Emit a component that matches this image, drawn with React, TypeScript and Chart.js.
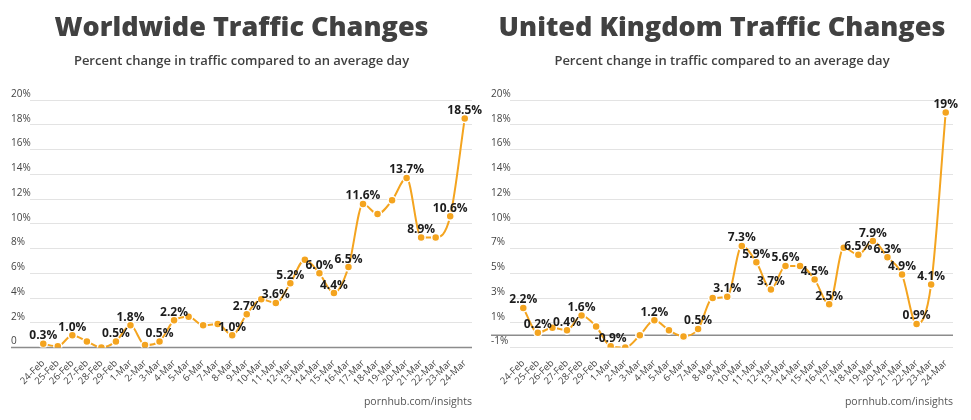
import { useEffect, useRef } from 'react';
import { Chart, LinearScale, registerables } from 'chart.js';

const days = [
  '24-Feb', '25-Feb', '26-Feb', '27-Feb', '28-Feb', '29-Feb',
  '1-Mar', '2-Mar', '3-Mar', '4-Mar', '5-Mar', '6-Mar', '7-Mar', '8-Mar',
  '9-Mar', '10-Mar', '11-Mar', '12-Mar', '13-Mar', '14-Mar', '15-Mar', '16-Mar',
  '17-Mar', '18-Mar', '19-Mar', '20-Mar', '21-Mar', '22-Mar', '23-Mar', '24-Mar',
];

const worldValues = [
  0.3, 0.1, 1.0, 0.5, 0.0, 0.5,
  1.8, 0.2, 0.5, 2.2, 2.5, 1.8, 1.9, 1.0,
  2.7, 3.9, 3.6, 5.2, 7.1, 6.0, 4.4, 6.5,
  11.6, 10.8, 11.9, 13.7, 8.9, 8.9, 10.6, 18.5,
];
const worldLabels = [
  '0.3%', null, '1.0%', null, null, '0.5%',
  '1.8%', null, '0.5%', '2.2%', null, null, null, '1.0%',
  '2.7%', null, '3.6%', '5.2%', null, '6.0%', '4.4%', '6.5%',
  '11.6%', null, null, '13.7%', '8.9%', null, '10.6%', '18.5%',
];
const worldTicks = [0, 2, 4, 6, 8, 10, 12, 14, 16, 18, 20];

const ukValues = [
  2.2, 0.2, 0.6, 0.4, 1.6, 0.7,
  -0.9, -1.0, 0.0, 1.2, 0.4, -0.1, 0.5, 3.0,
  3.1, 7.3, 5.9, 3.7, 5.6, 5.6, 4.5, 2.5,
  7.1, 6.5, 7.9, 6.3, 4.9, 0.9, 4.1, 19,
];
const ukLabels = [
  '2.2%', '0.2%', null, '0.4%', '1.6%', null,
  '-0.9%', null, null, '1.2%', null, null, '0.5%', null,
  '3.1%', '7.3%', '5.9%', '3.7%', '5.6%', null, '4.5%', '2.5%',
  null, '6.5%', '7.9%', '6.3%', '4.9%', '0.9%', '4.1%', '19%',
];
// the UK axis is labelled unevenly: 7% and 10% sit one gridline apart
const ukTicks = [-1, 0, 1, 3, 5, 7, 10, 12, 14, 16, 18, 20];

const squeeze = (v: number) => (v <= 7 ? v : v >= 10 ? v - 1 : 7 + ((v - 7) * 2) / 3);
const unsqueeze = (p: number) => (p <= 7 ? p : p >= 9 ? p + 1 : 7 + ((p - 7) * 3) / 2);

class SqueezedScale extends LinearScale {
  static id = 'squeezed';
  static defaults = LinearScale.defaults;

  getPixelForValue(value: number) {
    const lo = squeeze(this.min);
    const hi = squeeze(this.max);
    return this.getPixelForDecimal((squeeze(value) - lo) / (hi - lo));
  }

  getValueForPixel(pixel: number) {
    const lo = squeeze(this.min);
    const hi = squeeze(this.max);
    return unsqueeze(lo + this.getDecimalForPixel(pixel) * (hi - lo));
  }
}

Chart.register(...registerables, SqueezedScale);

const ORANGE = '#f4a41f';
const FONT = '"Open Sans", "DejaVu Sans", sans-serif';

type PanelProps = {
  title: string;
  values: number[];
  pointLabels: (string | null)[];
  ticks: number[];
  uk?: boolean;
  width: number;
  padLeft: number;
  padRight: number;
};

function TrafficPanel(props: PanelProps) {
  const canvasRef = useRef<HTMLCanvasElement | null>(null);

  useEffect(() => {
    if (!canvasRef.current) return;

    const decorations = {
      id: 'decorations',
      beforeDatasetsDraw(chart: any) {
        const { ctx, chartArea, scales } = chart;
        const y0 = scales.y.getPixelForValue(0);
        ctx.save();
        ctx.strokeStyle = '#8c8c8c';
        ctx.lineWidth = 1.5;
        ctx.beginPath();
        ctx.moveTo(scales.y.left, y0);
        ctx.lineTo(chartArea.right, y0);
        ctx.stroke();
        ctx.restore();
      },
      afterDatasetsDraw(chart: any) {
        const { ctx } = chart;
        const meta = chart.getDatasetMeta(0);
        ctx.save();
        ctx.font = `700 12px ${FONT}`;
        ctx.fillStyle = '#1c1c1c';
        ctx.textAlign = 'center';
        ctx.textBaseline = 'middle';
        meta.data.forEach((pt: any, i: number) => {
          const text = props.pointLabels[i];
          if (text) ctx.fillText(text, pt.x, pt.y - 8);
        });
        ctx.restore();
      },
      afterDraw(chart: any) {
        const { ctx, chartArea } = chart;
        ctx.save();
        ctx.font = `500 10.5px ${FONT}`;
        ctx.fillStyle = '#555';
        ctx.textAlign = 'right';
        ctx.textBaseline = 'middle';
        ctx.fillText('pornhub.com/insights', chartArea.right, 402);
        ctx.restore();
      },
    };

    const chart = new Chart(canvasRef.current, {
      type: 'line',
      data: {
        labels: days,
        datasets: [
          {
            data: props.values,
            borderColor: ORANGE,
            borderWidth: 2,
            cubicInterpolationMode: 'monotone',
            pointRadius: 4,
            pointBackgroundColor: ORANGE,
            pointBorderColor: '#fff',
            pointBorderWidth: 1.5,
          },
        ],
      },
      options: {
        animation: false,
        responsive: true,
        maintainAspectRatio: false,
        layout: { padding: { left: props.padLeft, right: props.padRight, top: 0, bottom: 30 } },
        plugins: {
          legend: { display: false },
          tooltip: { enabled: false },
          title: {
            display: true,
            text: props.title,
            color: '#414141',
            font: { family: FONT, size: 27, weight: 800 },
            padding: { top: 12, bottom: 0 },
          },
          subtitle: {
            display: true,
            text: 'Percent change in traffic compared to an average day',
            color: '#414141',
            font: { family: FONT, size: 13, weight: 600 },
            padding: { top: 9, bottom: 31 },
          },
        },
        scales: {
          x: {
            offset: true,
            grid: { display: false },
            border: { display: false },
            ticks: {
              autoSkip: false,
              minRotation: 45,
              maxRotation: 45,
              padding: 2,
              color: '#444',
              font: { family: FONT, size: 9.5 },
            },
          },
          y: {
            type: props.uk ? 'squeezed' : 'linear',
            min: props.ticks[0],
            max: props.ticks[props.ticks.length - 1],
            afterBuildTicks: (axis: any) => {
              axis.ticks = props.ticks.map((value) => ({ value }));
            },
            afterFit: (axis: any) => {
              axis.width = 25;
            },
            border: { display: false },
            grid: {
              color: (c: any) => (c.tick && c.tick.value === 0 ? 'transparent' : '#e3e3e3'),
              drawTicks: true,
              tickLength: 6,
            },
            ticks: {
              crossAlign: 'far',
              labelOffset: -6,
              padding: 0,
              color: '#444',
              font: { family: FONT, size: 10 },
              callback: (v: any) => (v === 0 ? (props.uk ? '' : '0') : `${v}%`),
            },
          },
        },
      },
      plugins: [decorations],
    } as any);

    return () => {
      chart.destroy();
    };
  }, [props]);

  return (
    <div style={{ position: 'relative', width: props.width, height: 420 }}>
      <canvas ref={canvasRef} />
    </div>
  );
}

export default function App() {
  return (
    <div
      style={{
        position: 'absolute',
        left: 0,
        top: 0,
        width: 971,
        height: 420,
        display: 'flex',
        background: '#fff',
      }}
    >
      <TrafficPanel
        title="Worldwide Traffic Changes"
        values={worldValues}
        pointLabels={worldLabels}
        ticks={worldTicks}
        width={485}
        padLeft={11}
        padRight={13}
      />
      <TrafficPanel
        title="United Kingdom Traffic Changes"
        values={ukValues}
        pointLabels={ukLabels}
        ticks={ukTicks}
        uk
        width={486}
        padLeft={6}
        padRight={18}
      />
    </div>
  );
}
